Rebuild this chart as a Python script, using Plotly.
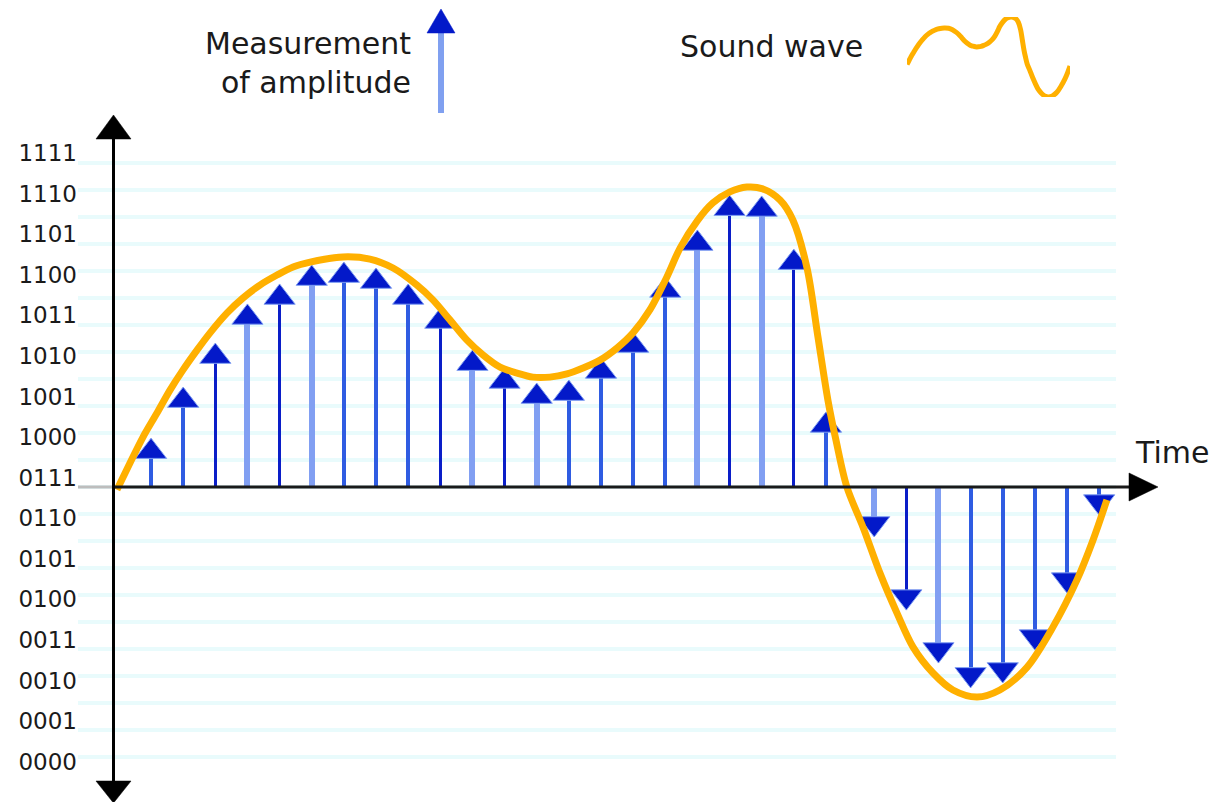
import plotly.graph_objects as go

# ---------------- data ----------------
# sampling instants (sample index) and measured amplitudes (arrow tips, in grid units above the time axis)
up_t = [1, 2, 3, 4, 5, 6, 7, 8, 9, 10, 11, 12, 13, 14, 15, 16, 17, 18, 19, 20, 21, 22]
up_amp = [1.81, 3.70, 5.33, 6.78, 7.52, 8.22, 8.33, 8.11, 7.52, 6.63, 5.07, 4.41,
          3.85, 3.96, 4.78, 5.74, 7.78, 9.52, 10.81, 10.78, 8.81, 2.78]
down_t = [23.5, 24.5, 25.5, 26.5, 27.5, 28.5, 29.5, 30.5]
down_amp = [-1.85, -4.56, -6.52, -7.44, -7.26, -6.04, -3.93, -1.04]

# sound wave trace
wave_t = [-0.06, 0.345, 0.75, 1.185, 1.59, 1.99, 2.43, 2.83, 3.36, 3.86, 4.39, 4.92,
          5.42, 5.95, 6.97, 7.81, 8.53, 9.27, 9.77, 10.30, 10.83, 11.33, 11.86, 12.39,
          12.88, 13.41, 13.94, 14.44, 14.97, 15.50, 15.99, 16.52, 17.05, 17.46, 17.99,
          18.48, 19.01, 19.54, 20.04, 20.57, 20.97, 21.41, 21.75, 22.06, 22.31, 22.65,
          23.15, 23.68, 24.21, 24.71, 25.33, 25.95, 26.70, 27.41, 28.26, 29.06, 29.81,
          30.31, 30.74]
wave_a = [-0.1, 0.89, 1.85, 2.74, 3.59, 4.33, 5.07, 5.70, 6.44, 7.00, 7.48, 7.85,
          8.15, 8.33, 8.52, 8.44, 8.11, 7.48, 6.93, 6.19, 5.44, 4.89, 4.44, 4.22,
          4.07, 4.07, 4.19, 4.41, 4.70, 5.15, 5.70, 6.56, 7.78, 8.85, 9.85,
          10.52, 10.93, 11.11, 11.04, 10.63, 9.89, 8.11, 5.56, 3.22, 1.74, 0.0,
          -1.48, -3.19, -4.67, -5.93, -6.89, -7.52, -7.78, -7.52, -6.67, -5.19, -3.44,
          -1.96, -0.48]

# binary level tick labels and their positions
level_labels = ['0000', '0001', '0010', '0011', '0100', '0101', '0110', '0111',
                '1000', '1001', '1010', '1011', '1100', '1101', '1110', '1111']
level_pos = [-10.17, -8.67, -7.17, -5.66, -4.16, -2.66, -1.16, 0.35,
             1.85, 3.35, 4.85, 6.36, 7.86, 9.36, 10.86, 12.36]
grid_levels = list(range(-10, 13))

# stem tone for each sample (as drawn): D dark, M medium, L light
up_tone = ['M', 'M', 'D', 'L', 'D', 'L', 'M', 'M', 'M', 'D', 'L', 'D', 'L', 'M', 'M',
           'M', 'M', 'L', 'D', 'L', 'D', 'M']
down_tone = ['L', 'D', 'L', 'M', 'M', 'M', 'M', 'M']

# ---------------- layout geometry ----------------
W, H = 1215, 802
PL, PR, PT, PB = 78, 1116, 0, 802          # plot area in pixels
X0_PX, X_SCALE = 118.9, 32.14              # pixel of t=0, pixels per sample
Y0_PX, Y_SCALE = 487.0, 27.0               # pixel of amplitude 0, pixels per grid unit

def px(x):
    return (x - PL) / (PR - PL)

def py(y):
    return (PB - y) / (PB - PT)

xr = [(PL - X0_PX) / X_SCALE, (PR - X0_PX) / X_SCALE]
yr = [(Y0_PX - PB) / Y_SCALE, (Y0_PX - PT) / Y_SCALE]

TONE_COL = {'D': '#0a1ec8', 'M': '#2f5ce2', 'L': '#819ff2'}
TONE_W = {'D': 3, 'M': 4, 'L': 6}
HEAD_FILL = '#0319c9'
HEAD_EDGE = '#7f9ef2'
ORANGE = '#ffb000'
MSIZE = 27
r_units = (MSIZE / 2) / Y_SCALE

fig = go.Figure()

# stems as thin bars
all_t = up_t + down_t
all_amp = up_amp + down_amp
all_tone = up_tone + down_tone
stem_top = [a - r_units if a > 0 else a + r_units for a in all_amp]
fig.add_trace(go.Bar(
    x=all_t, y=stem_top, base=0,
    width=[TONE_W[k] / X_SCALE for k in all_tone],
    marker=dict(color=[TONE_COL[k] for k in all_tone], line=dict(width=0)),
    showlegend=False, hoverinfo='skip'))

# arrowheads
fig.add_trace(go.Scatter(
    x=up_t, y=[a - r_units for a in up_amp], mode='markers',
    marker=dict(symbol='triangle-up', size=MSIZE, color=HEAD_FILL,
                line=dict(color=HEAD_EDGE, width=1)),
    showlegend=False, hoverinfo='skip'))
fig.add_trace(go.Scatter(
    x=down_t, y=[a + r_units for a in down_amp], mode='markers',
    marker=dict(symbol='triangle-down', size=MSIZE, color=HEAD_FILL,
                line=dict(color=HEAD_EDGE, width=1)),
    showlegend=False, hoverinfo='skip'))

# sound wave
fig.add_trace(go.Scatter(
    x=wave_t, y=wave_a, mode='lines',
    line=dict(color=ORANGE, width=7, shape='spline', smoothing=0.9),
    showlegend=False, hoverinfo='skip'))

# legend icon: same wave, small, in an inset axis
fig.add_trace(go.Scatter(
    x=wave_t, y=wave_a, mode='lines', xaxis='x2', yaxis='y2',
    line=dict(color=ORANGE, width=5, shape='spline', smoothing=0.9),
    showlegend=False, hoverinfo='skip', cliponaxis=False))

# ---------------- decorations ----------------
AX_X = 113.5
shapes = []
def line(x1, y1, x2, y2, color, width):
    shapes.append(dict(type='line', xref='paper', yref='paper',
                       x0=px(x1), y0=py(y1), x1=px(x2), y1=py(y2),
                       line=dict(color=color, width=width), layer='above'))

def tri(pts, fill):
    path = 'M ' + ' L '.join(f'{px(a):.5f},{py(b):.5f}' for a, b in pts) + ' Z'
    shapes.append(dict(type='path', xref='paper', yref='paper', path=path,
                       fillcolor=fill, line=dict(color=fill, width=0.5), layer='above'))

line(PL, Y0_PX, AX_X, Y0_PX, '#bdbdbd', 3)
line(AX_X, Y0_PX, 1134, Y0_PX, '#1a1a1a', 3)
tri([(1129, 473), (1158, 487), (1129, 501)], '#000000')
line(AX_X, 134, AX_X, 786, '#000000', 3)
tri([(96, 139), (AX_X, 115), (131, 139)], '#000000')
tri([(96, 781), (AX_X, 803), (131, 781)], '#000000')

# legend arrow
line(441, 31, 441, 113, '#80a0f0', 6)
tri([(427, 33), (441, 9), (455, 33)], HEAD_FILL)

FONT = 'DejaVu Sans'
TXT = dict(family=FONT, size=30, color='#1a1a1a')
annotations = [
    dict(text='Measurement<br>of amplitude', x=px(413), y=py(63), xref='paper', yref='paper',
         xanchor='right', yanchor='middle', align='right', showarrow=False,
         font=dict(family=FONT, size=30, color='#1a1a1a')),
    dict(text='Sound wave', x=px(678), y=py(47), xref='paper', yref='paper',
         xanchor='left', yanchor='middle', showarrow=False, font=TXT),
    dict(text='Time', x=px(1133), y=py(453), xref='paper', yref='paper',
         xanchor='left', yanchor='middle', showarrow=False, font=TXT),
]

wmin, wmax = min(wave_a), max(wave_a)
fig.update_layout(
    width=W, height=H,
    margin=dict(l=PL, r=W - PR, t=PT, b=H - PB, pad=0),
    paper_bgcolor='white', plot_bgcolor='white',
    showlegend=False, bargap=0,
    xaxis=dict(range=xr, visible=False, automargin=False, fixedrange=True),
    yaxis=dict(range=yr, tickmode='array', tickvals=grid_levels, showticklabels=False,
               showgrid=True, gridcolor='#e9fbfc', gridwidth=4, zeroline=False,
               showline=False, ticks='', automargin=False),
    yaxis3=dict(range=yr, overlaying='y', anchor='x', side='left',
                tickmode='array', tickvals=level_pos, ticktext=level_labels,
                showgrid=False, zeroline=False, showline=False, ticks='',
                tickfont=dict(family=FONT, size=23, color='#1a1a1a'),
                automargin=False),
    xaxis2=dict(domain=[px(907), px(1070)], range=[min(wave_t), max(wave_t)],
                anchor='y2', visible=False, automargin=False),
    yaxis2=dict(domain=[py(97), py(17)], range=[wmin, wmax],
                anchor='x2', visible=False, automargin=False),
    shapes=shapes, annotations=annotations,
)

# give yaxis3 something to hang on
fig.add_trace(go.Scatter(x=[None], y=[None], yaxis='y3', showlegend=False, hoverinfo='skip'))

fig.write_html('out.html', config={'displayModeBar': False},
               post_script="document.body.style.margin='0';document.body.style.overflow='hidden';")
